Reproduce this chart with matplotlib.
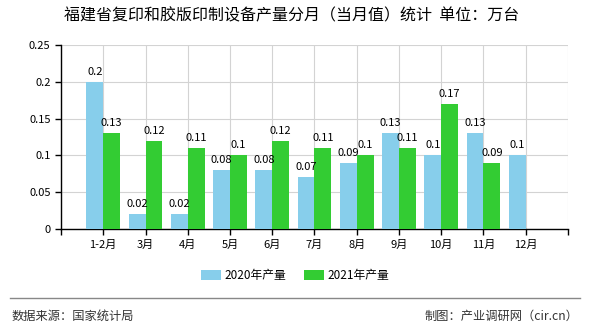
import matplotlib
matplotlib.use("Agg")
import matplotlib.pyplot as plt
import numpy as np

plt.rcParams['font.family'] = ['Noto Sans CJK SC', 'DejaVu Sans']

# dados
meses = ["1-2月", "3月", "4月", "5月", "6月", "7月", "8月", "9月", "10月", "11月", "12月"]
v2020 = [0.2, 0.02, 0.02, 0.08, 0.08, 0.07, 0.09, 0.13, 0.1, 0.13, 0.1]
v2021 = [0.13, 0.12, 0.11, 0.1, 0.12, 0.11, 0.1, 0.11, 0.17, 0.09, None]
y_ticks = [0, 0.05, 0.1, 0.15, 0.2, 0.25]
y_labels = ["0", "0.05", "0.1", "0.15", "0.2", "0.25"]

cor2020 = "#87CEEB"
cor2021 = "#33CC33"

fig = plt.figure(figsize=(5.9, 3.3), dpi=100)
ax = fig.add_axes([0.1034, 0.306, 0.8593, 0.5576])

x = np.arange(1, len(meses) + 1)
w = 0.4
a = [np.nan if v is None else v for v in v2021]
ax.bar(x - w / 2, v2020, w, color=cor2020, label="2020年产量", zorder=3)
ax.bar(x + w / 2, a, w, color=cor2021, label="2021年产量", zorder=3)

for xi, v in zip(x, v2020):
    ax.text(xi - w / 2, v + 0.007, str(v), ha="center", va="bottom", fontsize=8)
for xi, v in zip(x, v2021):
    if v is not None:
        ax.text(xi + w / 2, v + 0.007, str(v), ha="center", va="bottom", fontsize=8)

ax.set_xlim(0, 12)
ax.set_ylim(0, 0.25)
ax.set_xticks(np.arange(0, 13))
ax.set_xticklabels([""] + meses + [""], fontsize=8)
ax.set_yticks(y_ticks)
ax.set_yticklabels(y_labels, fontsize=8)
ax.grid(True, color="#d3d3d3", linewidth=0.8, zorder=0)
for s in ["top", "right"]:
    ax.spines[s].set_visible(False)
ax.spines["left"].set_linewidth(1)
ax.spines["bottom"].set_linewidth(1)
ax.tick_params(length=4, width=1)

fig.text(0.495, 0.952, "福建省复印和胶版印制设备产量分月（当月值）统计  单位：万台",
         ha="center", va="center", fontsize=11.5)

fig.legend(loc="center", bbox_to_anchor=(0.5, 0.165), ncol=2, frameon=False,
           fontsize=8.5, handlelength=1.7, handleheight=0.9, handletextpad=0.3,
           columnspacing=1.5)

fig.add_artist(plt.Line2D([0.017, 0.983], [0.097, 0.097], color="#888888", linewidth=1))
fig.text(0.02, 0.042, "数据来源：国家统计局", ha="left", va="center", fontsize=8.8, color="#333333")
fig.text(0.98, 0.042, "制图：产业调研网（cir.cn）", ha="right", va="center", fontsize=8.8, color="#333333")

plt.savefig("out.png", dpi=100)
